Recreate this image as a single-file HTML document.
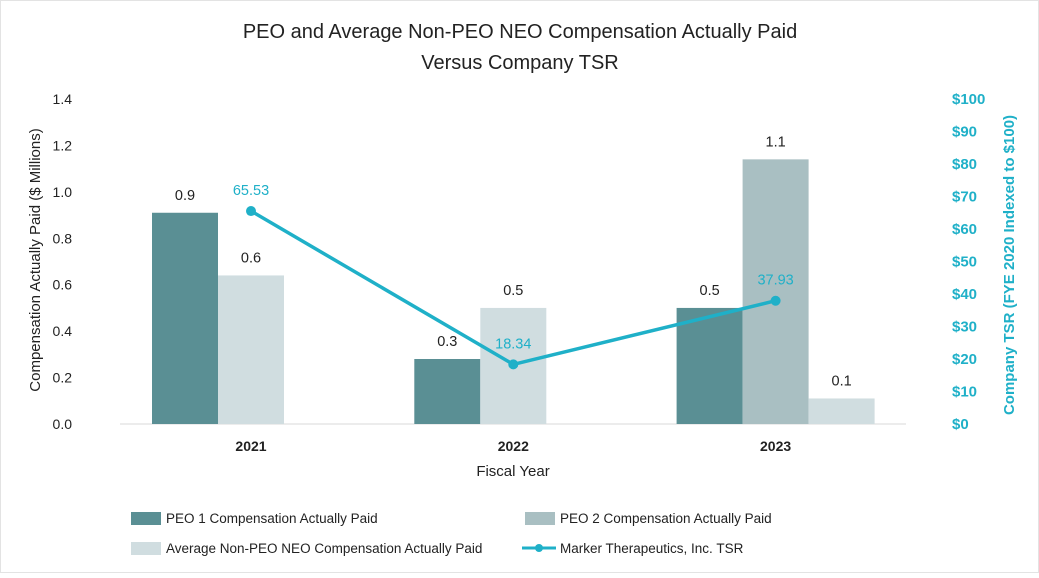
<!DOCTYPE html>
<html><head><meta charset="utf-8"><style>
body{margin:0;background:#fff;font-family:"Liberation Sans",sans-serif}
svg text{font-family:"Liberation Sans",sans-serif}
</style></head><body>
<svg width="1039" height="573" viewBox="0 0 1039 573">
<rect x="0.5" y="0.5" width="1038" height="572" fill="#fff" stroke="#e3e3e3"/>
<text x="520" y="38" font-size="20" text-anchor="middle" fill="#222">PEO and Average Non-PEO NEO Compensation Actually Paid</text>
<text x="520" y="69" font-size="20" text-anchor="middle" fill="#222">Versus Company TSR</text>
<g id="plot"></g>
<text transform="translate(40,260) rotate(-90)" font-size="15" text-anchor="middle" fill="#222">Compensation Actually Paid ($ Millions)</text>
<text transform="translate(1014,265) rotate(-90)" font-size="15" font-weight="bold" text-anchor="middle" fill="#1fb0c8">Company TSR (FYE 2020 Indexed to $100)</text>
<text x="513" y="476" font-size="15" text-anchor="middle" fill="#222">Fiscal Year</text>
<g>
<rect x="131" y="512" width="30" height="13" fill="#5a8f94"/>
<text x="166" y="523" font-size="13.5" fill="#222">PEO 1 Compensation Actually Paid</text>
<rect x="525" y="512" width="30" height="13" fill="#a9bfc2"/>
<text x="560" y="523" font-size="13.5" fill="#222">PEO 2 Compensation Actually Paid</text>
<rect x="131" y="542" width="30" height="13" fill="#d0dde0"/>
<text x="166" y="553" font-size="13.5" fill="#222">Average Non-PEO NEO Compensation Actually Paid</text>
<line x1="522" y1="548" x2="556" y2="548" stroke="#1fb0c8" stroke-width="3"/>
<circle cx="539" cy="548" r="4" fill="#1fb0c8"/>
<text x="560" y="553" font-size="13.5" fill="#222">Marker Therapeutics, Inc. TSR</text>
</g>
</svg>
<script>
const categories = ["2021","2022","2023"];
const peo1 = [0.91, 0.28, 0.50];
const peo2 = [null, null, 1.14];
const avgNeo = [0.64, 0.50, 0.11];
const peo1Labels = ["0.9","0.3","0.5"];
const peo2Labels = [null,null,"1.1"];
const avgLabels = ["0.6","0.5","0.1"];
const tsr = [65.53, 18.34, 37.93];
const tsrLabels = ["65.53","18.34","37.93"];
const leftTicks = [0,0.2,0.4,0.6,0.8,1.0,1.2,1.4];
const rightTicks = [0,10,20,30,40,50,60,70,80,90,100];

const NS="http://www.w3.org/2000/svg";
const g=document.getElementById('plot');
const y0=424, yTop=99;
const yL=v=>y0-(v/1.4)*(y0-yTop);
const yR=v=>y0-(v/100)*(y0-yTop);
const xC=i=>251+i*262.3;
const bw=66;
function mk(tag,attrs,txt){const e=document.createElementNS(NS,tag);for(const k in attrs)e.setAttribute(k,attrs[k]);if(txt!=null)e.textContent=txt;g.appendChild(e);return e;}
leftTicks.forEach(t=>{
 const e=mk('text',{x:72,y:yL(t)+5,'font-size':14,'text-anchor':'end',fill:'#222'},t.toFixed(1));
 
 
});
rightTicks.forEach(t=>{
 const e=mk('text',{x:952,y:yR(t)+5,'font-size':15,'font-weight':'bold',fill:'#1fb0c8'},'$'+t);
 
 
});
const base=mk('line',{x1:120,x2:906,y1:y0,y2:y0,stroke:'#d9d9d9','stroke-width':1});


const series=[[peo1,peo1Labels,'#5a8f94','peo1'],[peo2,peo2Labels,'#a9bfc2','peo2'],[avgNeo,avgLabels,'#d0dde0','avg']];
categories.forEach((c,i)=>{
 const lbl=mk('text',{x:xC(i),y:451,'font-size':14,'font-weight':'bold','text-anchor':'middle',fill:'#222'},c);
 
 
 let slot=0;const left=xC(i)-bw*1.5;
 series.forEach(s=>{
  const v=s[0][i]; if(v==null) return;
  const x=left+slot*bw; slot++;
  const r=mk('rect',{x:x,y:yL(v),width:bw,height:y0-yL(v),fill:s[2]});
  
  
  const t=mk('text',{x:x+bw/2,y:yL(v)-13,'font-size':14.5,'text-anchor':'middle',fill:'#222'},s[1][i]);
  
  
 });
});
const pts=tsr.map((v,i)=>xC(i)+','+yR(v)).join(' ');
const pl=mk('polyline',{points:pts,fill:'none',stroke:'#1fb0c8','stroke-width':3.5});


tsr.forEach((v,i)=>{
 const p=mk('circle',{cx:xC(i),cy:yR(v),r:5,fill:'#1fb0c8'});
 
 
 const t=mk('text',{x:xC(i),y:yR(v)-16,'font-size':14.5,'text-anchor':'middle',fill:'#1fb0c8'},tsrLabels[i]);
 
 
});
</script>
</body></html>
